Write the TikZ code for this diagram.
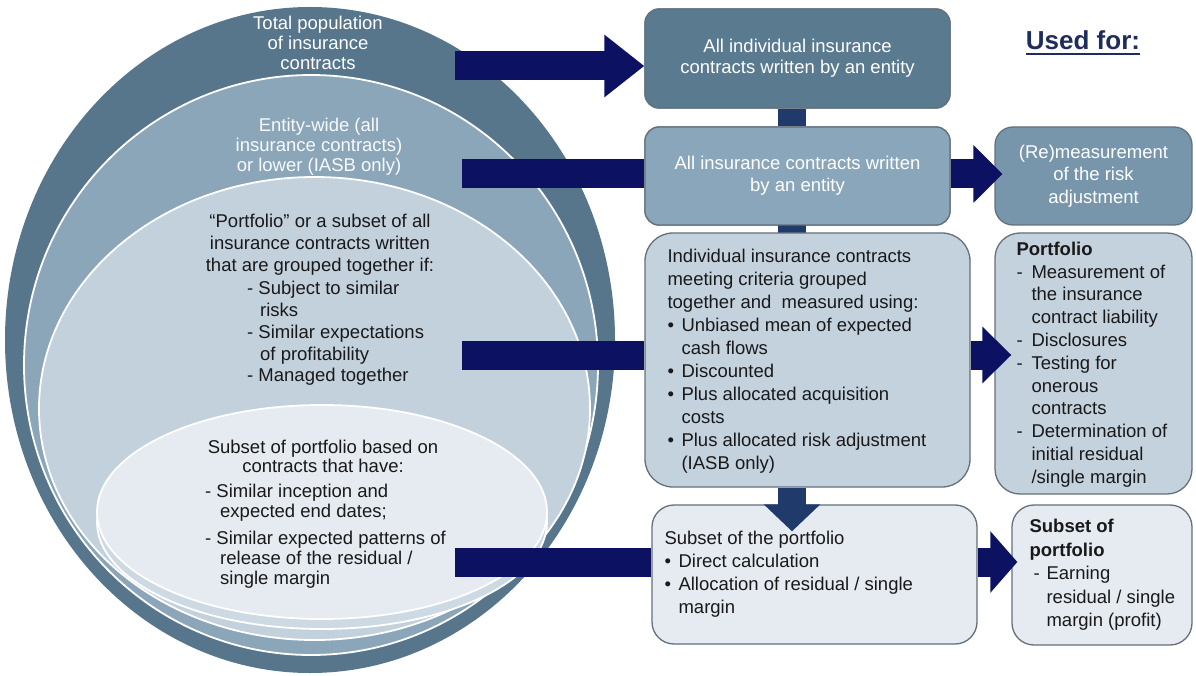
\documentclass[tikz,border=0pt]{standalone}
\usepackage{fontspec}
\setmainfont{Liberation Sans}
\usetikzlibrary{arrows.meta,calc}

\definecolor{ringA}{RGB}{87,118,140}
\definecolor{ringB}{RGB}{139,166,185}
\definecolor{ringC}{RGB}{195,209,221}
\definecolor{ringD}{RGB}{229,235,240}
\definecolor{ringDs}{RGB}{205,217,227}
\definecolor{boxA}{RGB}{90,122,144}
\definecolor{boxB}{RGB}{138,166,186}
\definecolor{boxR}{RGB}{120,150,171}
\definecolor{boxC}{RGB}{196,210,222}
\definecolor{boxD}{RGB}{229,235,241}
\definecolor{edgegray}{RGB}{100,112,122}
\definecolor{arrownavy}{RGB}{12,17,98}
\definecolor{linkblue}{RGB}{31,58,107}
\definecolor{headblue}{RGB}{31,45,92}
\definecolor{ink}{RGB}{25,25,25}

\newcommand\itembul{\makebox[14pt][l]{\textbullet}}
\newcommand\itemind{\hspace*{14pt}}
\newcommand\itemdash{\makebox[15pt][l]{-}}
\newcommand\dashind{\hspace*{15pt}}

\begin{document}
\begin{tikzpicture}[x=1pt,y=-1pt,
  txt/.style={font=\fontsize{18.5}{21}\selectfont, inner sep=0pt, text=ink},
  wtxt/.style={font=\fontsize{18.5}{20}\selectfont, inner sep=0pt, text=white, align=center},
  card/.style={draw=edgegray, line width=1.3pt, inner sep=0pt},
  btxt/.style={font=\fontsize{18.5}{23}\selectfont, inner sep=0pt, text=ink, align=left},
  ring/.style={draw=white, line width=1.8pt},
  shaft/.style={arrownavy, line width=29pt},
  fatarrow/.style={arrownavy, line width=29pt},
  link/.style={linkblue, line width=28pt},
]
\useasboundingbox (0,0) rectangle (1196,676);
\fill[white] (0,0) rectangle (1196,676);

% nested population discs
\fill[ringA] (310,340) ellipse [x radius=305pt, y radius=333pt];
\filldraw[ring, fill=ringB] (311,365) ellipse [x radius=287pt, y radius=290pt];
\filldraw[ring, fill=ringC] (314.5,408.5) ellipse [x radius=275.5pt, y radius=231.5pt];
\filldraw[ring, fill=ringDs] (322,522) ellipse [x radius=225pt, y radius=107pt];
\filldraw[ring, fill=ringD] (322,512) ellipse [x radius=225pt, y radius=107pt];

% texts on the discs
\node[wtxt] (pop) at (318,43) {Total population\\of insurance\\contracts};
\node[wtxt, text=white!94!ringB] (ent) at (319,147) {Entity-wide (all\\insurance contracts)\\or lower (IASB only)};
\node[txt, align=center, font=\fontsize{18.5}{22}\selectfont] (port) at (320,245)
  {``Portfolio'' or a subset of all\\insurance contracts written\\that are grouped together if:};
\node[txt, align=left, anchor=west, font=\fontsize{18.5}{21.75}\selectfont] (portc) at (247,333.5)
  {- Subject to similar\\\hspace*{13pt}risks\\- Similar expectations\\\hspace*{13pt}of profitability\\- Managed together};
\node[txt, align=center, font=\fontsize{18.5}{19.5}\selectfont] (sub) at (323,456.5)
  {Subset of portfolio based on\\contracts that have:};
\node[txt, align=left, anchor=west, font=\fontsize{18.5}{20}\selectfont] (subc) at (205,536.5)
  {- Similar inception and\\\hspace*{15pt}expected end dates;\\[7pt]- Similar expected patterns of\\\hspace*{15pt}release of the residual /\\\hspace*{15pt}single margin};

% tails of the level arrows
\coordinate (t1) at (455,66);
\coordinate (t2) at (462,174);
\coordinate (t3) at (462,355);
\coordinate (t4) at (455,562);
\coordinate (bx) at (792,0);

% boxes of the middle column
\node[card, fill=boxA, rounded corners=14pt, minimum width=305pt, minimum height=99pt,
      wtxt, font=\fontsize{18.5}{21}\selectfont] (B1) at (797.5,58.5)
  {All individual insurance\\contracts written by an entity};
\node[card, fill=boxB, rounded corners=14pt, minimum width=305pt, minimum height=98pt,
      wtxt, font=\fontsize{18.5}{22}\selectfont] (B2) at (797.5,176)
  {All insurance contracts written\\by an entity};

\draw[shaft] (t2) -- (t2 -| B2.west);
\draw[shaft] (t3) -- (t3 -| B2.west);
\draw[shaft] (t4) -- ($(t4 -| B2.west)+(7,0)$);
\draw[link] (B1.south -| bx) -- (B2.north -| bx);
\draw[link] ($(B2.south -| bx)+(0,-2)$) -- ++(0,12);

\node[card, fill=boxA, rounded corners=14pt, minimum width=305pt, minimum height=99pt,
      wtxt, font=\fontsize{18.5}{21}\selectfont] at (B1) {All individual insurance\\contracts written by an entity};
\node[card, fill=boxB, rounded corners=14pt, minimum width=305pt, minimum height=98pt,
      wtxt, font=\fontsize{18.5}{22}\selectfont] at (B2) {All insurance contracts written\\by an entity};

\node[card, fill=boxC, rounded corners=28pt, minimum width=325pt, minimum height=254pt] (B3) at (807.5,360) {};
\node[card, fill=boxD, rounded corners=22pt, minimum width=325pt, minimum height=139pt] (B4) at (814.5,574.5) {};

% boxes of the right column
\node[card, fill=boxR, rounded corners=18pt, minimum width=197pt, minimum height=98pt,
      wtxt, font=\fontsize{18.5}{22.5}\selectfont] (B5) at (1093.5,176)
  {(Re)measurement\\of the risk\\adjustment};
\node[card, fill=boxC, rounded corners=25pt, minimum width=197pt, minimum height=261pt] (B6) at (1093.5,363.5) {};
\node[card, fill=boxD, rounded corners=22pt, minimum width=180pt, minimum height=140pt] (B7) at (1102,575) {};

% box texts
\node[btxt, anchor=west] (B3t) at ($(B3.west)+(23,1)$)
  {Individual insurance contracts\\
   meeting criteria grouped\\
   together and\ \ measured using:\\
   \itembul Unbiased mean of expected\\
   \itemind cash flows\\
   \itembul Discounted\\
   \itembul Plus allocated acquisition\\
   \itemind costs\\
   \itembul Plus allocated risk adjustment\\
   \itemind (IASB only)};
\node[btxt, anchor=west] (B4t) at ($(B4.west)+(13,0)$)
  {Subset of the portfolio\\
   \itembul Direct calculation\\
   \itembul Allocation of residual / single\\
   \itemind margin};
\node[btxt, anchor=west, font=\fontsize{18.5}{22.8}\selectfont] (B6t) at ($(B6.west)+(22,1)$)
  {\textbf{Portfolio}\\
   \itemdash Measurement of\\
   \dashind the insurance\\
   \dashind contract liability\\
   \itemdash Disclosures\\
   \itemdash Testing for\\
   \dashind onerous\\
   \dashind contracts\\
   \itemdash Determination of\\
   \dashind initial residual\\
   \dashind /single margin};
\node[btxt, anchor=west, font=\fontsize{18.5}{23.5}\selectfont] (B7t) at ($(B7.west)+(18,0)$)
  {\textbf{Subset of}\\
   \textbf{portfolio}\\
   \hspace*{4pt}\makebox[13pt][l]{-}Earning\\
   \hspace*{17pt}residual / single\\
   \hspace*{17pt}margin (profit)};

% arrows pointing into the boxes
\draw[fatarrow, -{Triangle[length=40pt,width=60pt]}] (t1) -- (t1 -| B1.west);
\draw[fatarrow, -{Triangle[length=29pt,width=56pt]}] (B2.east |- 0,174) -- ($(B5.west |- 0,174)+(8,0)$);
\draw[fatarrow, -{Triangle[length=29pt,width=55pt]}] (B3.east |- 0,355) -- ($(B6.west |- 0,355)+(17,0)$);
\draw[fatarrow, -{Triangle[length=27pt,width=60pt]}] (B4.east |- 0,562) -- ($(B7.west |- 0,562)+(6,0)$);
\draw[link, -{Triangle[length=27pt,width=55pt]}] (B3.south -| bx) -- ($(B4.north -| bx)+(0,27)$);

% heading of the right column
\node[font=\fontsize{26}{30}\selectfont\bfseries, text=headblue, inner sep=0pt] (UF) at (1083,40) {Used for:};
\draw[headblue, line width=2pt] ($(UF.base west)+(0,5)$) -- ($(UF.base east)+(0,5)$);
\end{tikzpicture}
\end{document}
